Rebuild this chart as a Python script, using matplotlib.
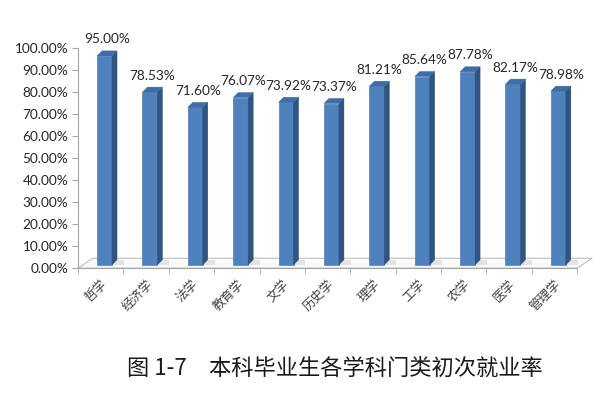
import numpy as np
import matplotlib.pyplot as plt
from matplotlib.patches import Polygon

categories = ['哲学', '经济学', '法学', '教育学', '文学', '历史学', '理学', '工学', '农学', '医学', '管理学']
rates = [95.00, 78.53, 71.60, 76.07, 73.92, 73.37, 81.21, 85.64, 87.78, 82.17, 78.98]
yticks = np.arange(0, 101, 10)
caption = '图 1-7　本科毕业生各学科门类初次就业率'

cjk = ['Noto Sans CJK SC', 'DejaVu Sans']
num_font = 'Lato'
axis_grey = '#A6A6A6'

fig = plt.figure(figsize=(6, 3.99), dpi=100)
ax = fig.add_axes([0.13, 0.328, 0.832, 0.551])
n = len(categories)
x = np.arange(n)
ax.set_xlim(-0.5, n - 0.5)
ax.set_ylim(0, 100)

# floor (3D look)
fdx, fdy = 0.33, 4.5
floor = Polygon([(-0.5, 0), (n - 0.5, 0), (n - 0.5 + fdx, fdy), (-0.5 + fdx, fdy)],
                closed=True, facecolor='#FAFAFA', edgecolor='#BFBFBF', lw=0.8,
                clip_on=False, zorder=1)
ax.add_patch(floor)

# bars with side and top faces
w = 0.33
off = 0.085
base = 1.5
dx, dy = 0.11, 2.3
left = x + off - w / 2
for xi in left:
    # soft shadow on the floor
    ax.add_patch(Polygon([(xi + w, base), (xi + w + dx + 0.15, base), (xi + w + dx + 0.15, base + dy),
                          (xi + w + dx, base + dy)], closed=True, facecolor='#E3E3E3',
                         edgecolor='none', zorder=2, clip_on=False))
ax.bar(left, rates, width=w, bottom=base, align='edge', color='#4F81BD',
       edgecolor='#3F6DA5', lw=0.4, zorder=3)
for xi, v in zip(left, rates):
    top = base + v
    side = Polygon([(xi + w, base), (xi + w + dx, base + dy), (xi + w + dx, top + dy), (xi + w, top)],
                   closed=True, facecolor='#2F5582', edgecolor='#2A4C74', lw=0.3, zorder=3, clip_on=False)
    lid = Polygon([(xi, top), (xi + w, top), (xi + w + dx, top + dy), (xi + dx, top + dy)],
                  closed=True, facecolor='#3E6DA8', edgecolor='#3A66A0', lw=0.3, zorder=3, clip_on=False)
    ax.add_patch(side)
    ax.add_patch(lid)
    ax.text(xi + w / 2 + dx / 2, top + dy + 2.5, f'{v:.2f}%', ha='center', va='bottom',
            fontsize=9.8, family=num_font, color='#262626', zorder=4)

# axes styling
for s in ['top', 'right']:
    ax.spines[s].set_visible(False)
ax.spines['left'].set_color(axis_grey)
ax.spines['bottom'].set_color(axis_grey)
ax.set_yticks(yticks)
ax.set_yticklabels([f'{t:.2f}%' for t in yticks], fontsize=9.8, family=num_font, color='#262626')
ax.tick_params(axis='y', length=4, color=axis_grey, pad=3)
ax.set_xticks(np.arange(-0.5, n, 1.0), minor=True)
ax.set_xticks(x)
ax.set_xticklabels(categories, family=cjk, fontsize=9, color='#404040',
                   rotation=45, ha='right', va='top', rotation_mode='anchor')
ax.tick_params(axis='x', which='major', length=0, pad=7)
ax.tick_params(axis='x', which='minor', length=4, color=axis_grey)

fig.text(0.212, 0.076, caption, family=cjk, fontsize=16, color='#1A1A1A', ha='left', va='center')

fig.savefig('out.png', dpi=100)
